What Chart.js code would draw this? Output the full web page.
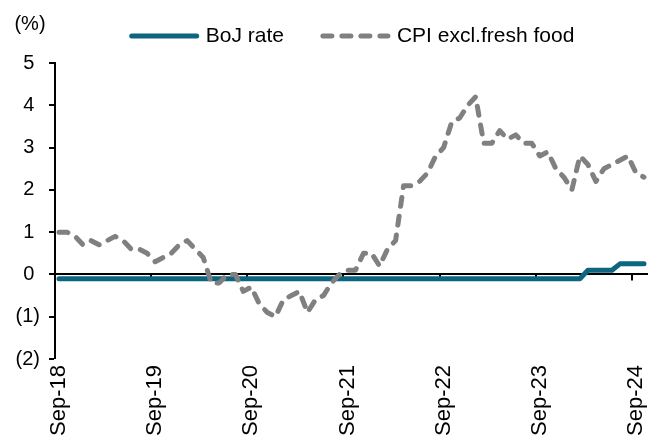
<!DOCTYPE html>
<html>
<head>
<meta charset="utf-8">
<script src="https://cdn.jsdelivr.net/npm/chart.js@4.4.1/dist/chart.umd.min.js"></script>
<style>
  html, body { margin: 0; padding: 0; background: #fff; }
</style>
</head>
<body>
<canvas id="rateChart" width="656" height="441"></canvas>
<script>
// Monthly observations, Sep-18 .. Oct-24
const monthNames = ["Jan","Feb","Mar","Apr","May","Jun","Jul","Aug","Sep","Oct","Nov","Dec"]
const months = []
for (let i = 0; i < 74; i++) {
  const m = (8 + i) % 12
  const yr = 18 + Math.floor((8 + i) / 12)
  months.push(`${monthNames[m]}-${yr}`)
}

// BoJ policy rate (%)
const bojRate = [
  -0.1, -0.1, -0.1, -0.1,                                                  // 2018 Sep-Dec
  -0.1, -0.1, -0.1, -0.1, -0.1, -0.1, -0.1, -0.1, -0.1, -0.1, -0.1, -0.1,  // 2019
  -0.1, -0.1, -0.1, -0.1, -0.1, -0.1, -0.1, -0.1, -0.1, -0.1, -0.1, -0.1,  // 2020
  -0.1, -0.1, -0.1, -0.1, -0.1, -0.1, -0.1, -0.1, -0.1, -0.1, -0.1, -0.1,  // 2021
  -0.1, -0.1, -0.1, -0.1, -0.1, -0.1, -0.1, -0.1, -0.1, -0.1, -0.1, -0.1,  // 2022
  -0.1, -0.1, -0.1, -0.1, -0.1, -0.1, -0.1, -0.1, -0.1, -0.1, -0.1, -0.1,  // 2023
  -0.1, -0.1, 0.1, 0.1, 0.1, 0.1, 0.25, 0.25, 0.25, 0.25                   // 2024 Jan-Oct
]

// Core CPI excl. fresh food, y/y (%)
const cpiCore = [
  1.0, 1.0, 0.9, 0.7,
  0.8, 0.7, 0.8, 0.9, 0.8, 0.6, 0.6, 0.5, 0.3, 0.4, 0.5, 0.7,
  0.8, 0.6, 0.4, -0.2, -0.2, 0.0, 0.0, -0.4, -0.3, -0.7, -0.9, -1.0,
  -0.6, -0.5, -0.4, -0.9, -0.6, -0.5, -0.2, 0.0, 0.1, 0.1, 0.5, 0.5,
  0.2, 0.6, 0.8, 2.1, 2.1, 2.2, 2.4, 2.8, 3.0, 3.6, 3.7, 4.0,
  4.2, 3.1, 3.1, 3.4, 3.2, 3.3, 3.1, 3.1, 2.8, 2.9, 2.5, 2.3,
  2.0, 2.8, 2.6, 2.2, 2.5, 2.6, 2.7, 2.8, 2.4, 2.3
]

const FONT = '"Liberation Sans", Arial, sans-serif'
Chart.defaults.font.family = FONT
Chart.defaults.color = "#000"

// legend drawn by hand: line samples + labels, centred over the plot
const lineLegend = {
  id: "lineLegend",
  afterDraw(chart) {
    const { ctx, chartArea } = chart
    const sampleW = 71, gap = 6, between = 36, y = 36
    ctx.save()
    ctx.font = `21px ${FONT}`
    const items = chart.data.datasets.map(ds => ({ ds, w: ctx.measureText(ds.label).width }))
    const total = items.reduce((s, it) => s + sampleW + gap + it.w, 0) + between * (items.length - 1)
    let x = (chartArea.left + chartArea.right) / 2 - total / 2
    items.forEach(({ ds, w }) => {
      ctx.beginPath()
      ctx.strokeStyle = ds.borderColor
      ctx.lineWidth = ds.borderWidth
      ctx.lineCap = "round"
      ctx.setLineDash(ds.borderDash || [])
      ctx.moveTo(x + 3, y)
      ctx.lineTo(x + sampleW - 3, y)
      ctx.stroke()
      ctx.setLineDash([])
      ctx.fillStyle = "#000"
      ctx.textBaseline = "middle"
      ctx.textAlign = "left"
      ctx.fillText(ds.label, x + sampleW + gap, y)
      x += sampleW + gap + w + between
    })
    ctx.restore()
  }
}

// "(%)" unit + small tick marks on the zero line at each Sep
const axisExtras = {
  id: "axisExtras",
  beforeDatasetsDraw(chart) {
    const { ctx, chartArea, scales: { x, y } } = chart
    const y0 = y.getPixelForValue(0)
    const half = (x.getPixelForValue(1) - x.getPixelForValue(0)) / 2
    ctx.save()
    ctx.strokeStyle = "#000"
    ctx.lineWidth = 2
    months.forEach((m, i) => {
      if (i % 12 !== 0 || i === 0) return
      const px = Math.round(x.getPixelForValue(i) - half)
      ctx.beginPath()
      ctx.moveTo(px, y0)
      ctx.lineTo(px, y0 + 6)
      ctx.stroke()
    })
    ctx.font = `20px ${FONT}`
    ctx.fillStyle = "#000"
    ctx.textAlign = "center"
    ctx.textBaseline = "middle"
    ctx.fillText("(%)", chartArea.left - 25, chartArea.top - 39)
    ctx.restore()
  }
}

new Chart(document.getElementById("rateChart"), {
  type: "line",
  data: {
    labels: months,
    datasets: [
      {
        label: "BoJ rate",
        data: bojRate,
        borderColor: "#0d6580",
        borderWidth: 5,
        borderCapStyle: "round",
        borderJoinStyle: "round",
        pointRadius: 0,
        tension: 0,
        order: 1
      },
      {
        label: "CPI excl.fresh food",
        data: cpiCore,
        borderColor: "#808080",
        borderWidth: 5,
        borderDash: [9, 10],
        borderCapStyle: "round",
        borderJoinStyle: "round",
        pointRadius: 0,
        tension: 0,
        order: 0
      }
    ]
  },
  options: {
    responsive: false,
    devicePixelRatio: 1,
    animation: false,
    layout: { padding: { top: 63, right: 8, left: 0, bottom: 0 } },
    plugins: {
      legend: { display: false },
      tooltip: { enabled: false }
    },
    scales: {
      x: {
        offset: true,
        grid: { display: false, drawTicks: false },
        border: { display: false },
        ticks: {
          autoSkip: false,
          minRotation: 90,
          maxRotation: 90,
          padding: 6,
          font: { size: 22 },
          callback: (v, i) => (i % 12 === 0 ? months[i] : "")
        },
        afterFit: s => { s.height = 82; s.paddingLeft = 0; s.paddingRight = 0 }
      },
      y: {
        min: -2,
        max: 5,
        ticks: {
          stepSize: 1,
          padding: 9,
          font: { size: 20 },
          callback: v => (v < 0 ? `(${-v})` : `${v} `)
        },
        grid: {
          color: c => (c.tick && c.tick.value === 0 ? "#000" : "rgba(0,0,0,0)"),
          lineWidth: c => (c.tick && c.tick.value === 0 ? 2 : 0),
          drawTicks: true,
          tickLength: 6,
          tickColor: "#000",
          tickWidth: 2
        },
        border: { display: true, color: "#000", width: 2 },
        afterFit: s => { s.width = 55 }
      }
    }
  },
  plugins: [axisExtras, lineLegend]
})
</script>
</body>
</html>
